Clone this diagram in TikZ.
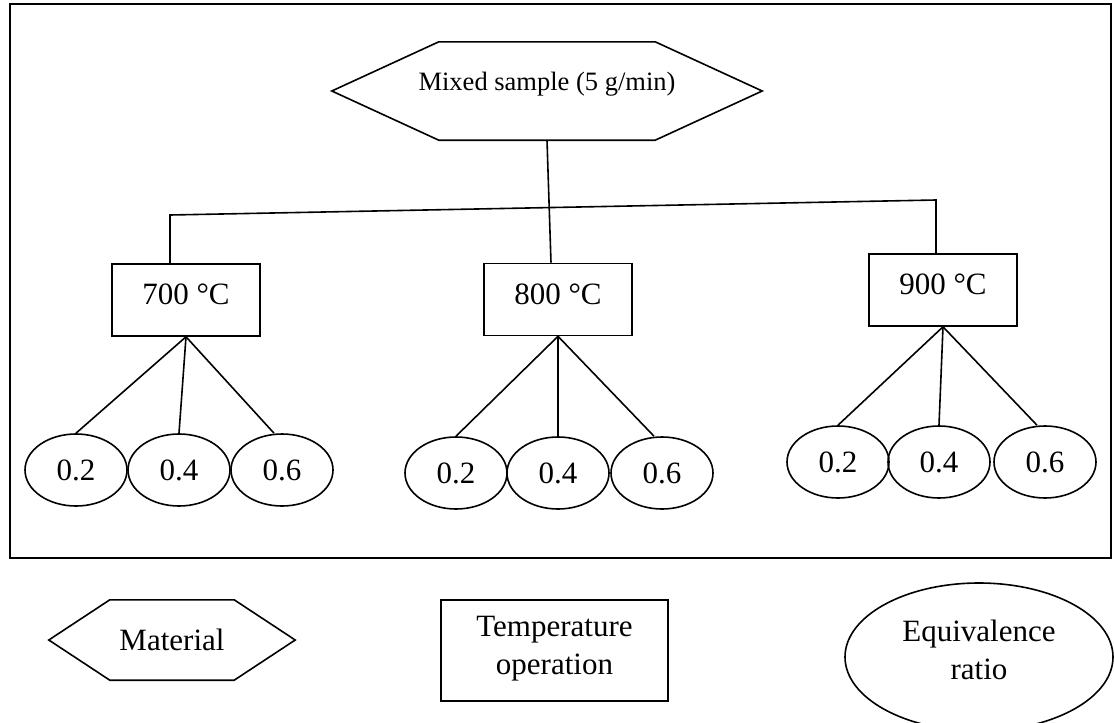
\documentclass[tikz,border=0pt]{standalone}
\usepackage{fontspec}
\setmainfont{Liberation Serif}
\usetikzlibrary{shapes,calc}

% hexagon drawn round a plain node: node name, width of the tips
\newcommand{\drawhex}[2]{%
  \draw[shp] (#1.west) -- ([xshift=#2]#1.north west) -- ([xshift=-#2]#1.north east)
    -- (#1.east) -- ([xshift=-#2]#1.south east) -- ([xshift=#2]#1.south west) -- cycle;}

\begin{document}
\begin{tikzpicture}[x=1pt,y=-1pt]
        \tikzstyle{every node}=[font=\fontsize{31}{38}\selectfont]
        \tikzstyle{shp}=[line width=1.6pt]
        \tikzstyle{mat}=[draw=none,inner sep=0pt]
        \tikzstyle{temp}=[draw,shp,rectangle,minimum width=148pt,minimum height=72pt,text depth=11pt]
        \tikzstyle{ratio}=[draw,shp,ellipse,inner sep=0pt,minimum width=102pt,minimum height=72pt]

        \useasboundingbox (0,0) rectangle (1114,723);
        \draw[line width=2.2pt] (10,4) rectangle (1111,558);

        % material
        \node[mat,minimum width=430pt,minimum height=98pt,text depth=20pt,
              font=\fontsize{26.5}{32}\selectfont] (mix) at (547,91) {Mixed sample (5 g/min)};
        \drawhex{mix}{107}

        % temperatures
        \node[temp] (t700) at (186,300) {700 °C};
        \node[temp] (t800) at (558,299.5) {800 °C};
        \node[temp] (t900) at (943,290) {900 °C};

        \coordinate (busL) at (170,215);
        \coordinate (busR) at (936,200);
        \draw[shp] (t700.north -| busL) -- (busL) -- (busR) -- (t900.north -| busR);
        \draw[shp] (mix.south) -- ([xshift=-7pt]t800.north);

        % equivalence ratios
        \foreach \t/\a/\b/\c/\y in {700/76/179/282/470, 800/456/558/662/473, 900/838/939/1045/462} {
            \node[ratio] (r\t a) at (\a,\y) {0.2};
            \node[ratio] (r\t b) at (\b,\y) {0.4};
            \node[ratio] (r\t c) at (\c,\y) {0.6};
            \draw[shp] (t\t.south) -- (r\t a.north);
            \draw[shp] (t\t.south) -- (r\t b.north);
            \draw[shp] (t\t.south) -- ([xshift=-8pt]r\t c.north);
        };

        % legend
        \node[mat,minimum width=246pt,minimum height=80pt] (lmat) at (172,640) {Material};
        \drawhex{lmat}{61}
        \node[temp,minimum width=227pt,minimum height=101pt,align=center] (ltemp) at (554.5,650.5)
            {Temperature\\operation};
        \node[ratio,minimum width=268pt,minimum height=148pt,align=center,text depth=14pt] (lratio) at (979,657)
            {Equivalence\\ratio};
\end{tikzpicture}
\end{document}
